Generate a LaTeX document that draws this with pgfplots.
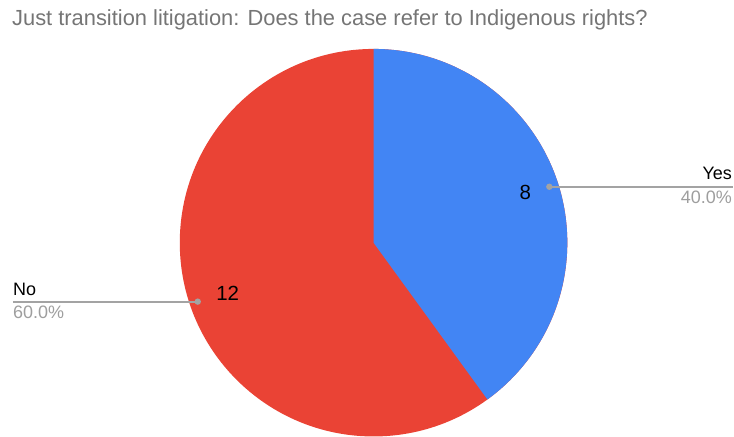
\documentclass[border=0pt]{standalone}
\usepackage{fontspec}
\setmainfont{Liberation Sans}
\usepackage{pgfplots}
\usepackage{pgfplotstable}
\pgfplotsset{compat=1.18}
\pgfkeys{/pgf/number format/assume math mode=true}
\definecolor{pieblue}{HTML}{4285F4}
\definecolor{piered}{HTML}{EA4335}
\definecolor{titlegray}{HTML}{757575}
\definecolor{pctgray}{HTML}{9E9E9E}
\definecolor{linegray}{HTML}{A3A3A3}

\pgfplotstableread{
label value
Yes 8
No 12
}\piedata
\pgfplotstablegetelem{0}{value}\of\piedata \let\valYes\pgfplotsretval
\pgfplotstablegetelem{1}{value}\of\piedata \let\valNo\pgfplotsretval
\pgfmathsetmacro\total{\valYes+\valNo}
\pgfmathsetmacro\angYes{360*\valYes/\total}
\pgfmathsetmacro\endYes{90-\angYes}
\pgfmathsetmacro\endNo{\endYes-360*\valNo/\total}
\pgfmathsetmacro\pctYes{100*\valYes/\total}
\pgfmathsetmacro\pctNo{100*\valNo/\total}

\begin{document}
\begin{tikzpicture}
\begin{axis}[scale only axis, width=734bp, height=437bp,
  xmin=0, xmax=734, ymin=0, ymax=437, hide axis, clip=false,
  /pgf/number format/assume math mode=true]
\path (axis cs:0,0) rectangle (axis cs:734,437);
% slices
\fill[piered] (axis cs:374,194) -- (axis cs:374,388) arc[start angle=90, end angle=\endNo, radius=194bp] -- cycle;
\fill[pieblue] (axis cs:374,194) -- (axis cs:374,388) arc[start angle=90, end angle=\endYes, radius=194bp] -- cycle;
% title
\node[anchor=base west, inner sep=0pt, text=titlegray, font=\fontsize{21.9bp}{25bp}\selectfont] at (axis cs:12,411) {Just transition litigation: Does the case refer to Indigenous rights?};
% values
\node[inner sep=0pt, font=\fontsize{20.5bp}{24bp}\selectfont] at (axis cs:526,244) {\pgfmathprintnumber[assume math mode=true]{\valYes}};
\node[inner sep=0pt, font=\fontsize{20.5bp}{24bp}\selectfont] at (axis cs:228,143) {\pgfmathprintnumber[assume math mode=true]{\valNo}};
% Yes leader
\draw[linegray, line width=1.8bp] (axis cs:550,250) -- (axis cs:734,250);
\fill[linegray] (axis cs:550,250) circle[radius=3.2bp];
\node[anchor=base east, inner sep=0pt, font=\fontsize{18bp}{21bp}\selectfont] at (axis cs:733,257) {Yes};
\node[anchor=base east, inner sep=0pt, text=pctgray, font=\fontsize{18bp}{21bp}\selectfont] at (axis cs:733,233) {\pgfmathprintnumber[fixed, fixed zerofill, precision=1, assume math mode=true]{\pctYes}\%};
% No leader
\draw[linegray, line width=1.8bp] (axis cs:13,135) -- (axis cs:198,135);
\fill[linegray] (axis cs:198,135) circle[radius=3.2bp];
\node[anchor=base west, inner sep=0pt, font=\fontsize{18bp}{21bp}\selectfont] at (axis cs:13,141) {No};
\node[anchor=base west, inner sep=0pt, text=pctgray, font=\fontsize{18bp}{21bp}\selectfont] at (axis cs:13,118) {\pgfmathprintnumber[fixed, fixed zerofill, precision=1, assume math mode=true]{\pctNo}\%};
\end{axis}
\end{tikzpicture}
\end{document}
